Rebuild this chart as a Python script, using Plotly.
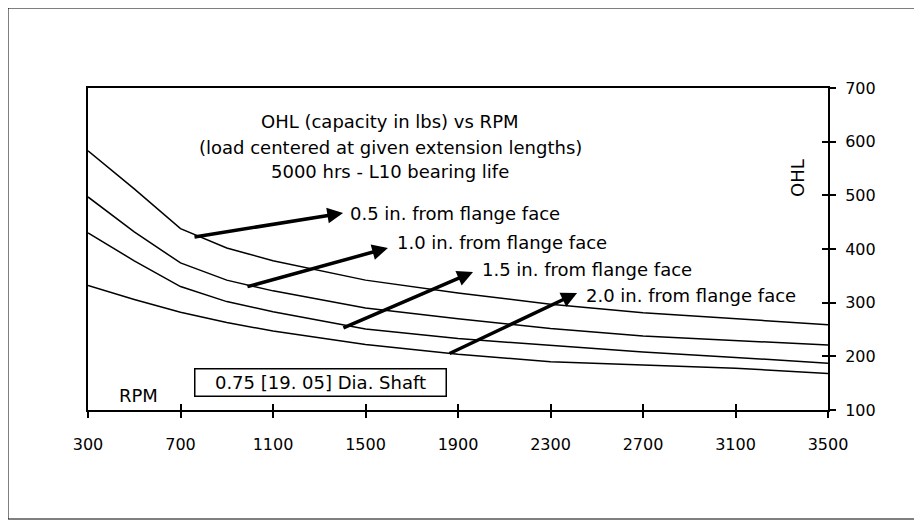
import plotly.graph_objects as go

rpm = [300, 500, 700, 900, 1100, 1500, 1900, 2300, 2700, 3100, 3500]
ohl_05 = [583, 512, 438, 402, 378, 342, 318, 297, 281, 270, 259]
ohl_10 = [497, 432, 374, 342, 322, 290, 270, 252, 238, 229, 221]
ohl_15 = [430, 378, 330, 302, 283, 251, 233, 221, 208, 198, 187]
ohl_20 = [332, 306, 282, 263, 247, 222, 204, 190, 184, 178, 168]

x_ticks = [300, 700, 1100, 1500, 1900, 2300, 2700, 3100, 3500]
y_ticks = [100, 200, 300, 400, 500, 600, 700]

# arrow labels: (text, tail rpm, tail ohl, head rpm, head ohl, label rpm, label ohl)
arrows = [
    ("0.5 in. from flange face", 754, 422, 1403, 467, 1424, 467),
    ("1.0 in. from flange face", 983, 329, 1597, 402, 1628, 413),
    ("1.5 in. from flange face", 1398, 252, 1965, 357, 1995, 361),
    ("2.0 in. from flange face", 1857, 204, 2415, 318, 2445, 314),
]

title_lines = ["OHL (capacity in lbs) vs RPM",
               "(load centered at given extension lengths)",
               "5000 hrs - L10 bearing life"]

FONT = "DejaVu Sans"

fig = go.Figure()
for ys in (ohl_05, ohl_10, ohl_15, ohl_20):
    fig.add_trace(go.Scatter(x=rpm, y=ys, mode="lines",
                             line=dict(color="black", width=1.5),
                             showlegend=False, hoverinfo="skip"))
# invisible trace on overlay axes (for crossing tick marks)
fig.add_trace(go.Scatter(x=[rpm[0]], y=[ohl_05[0]], xaxis="x2", yaxis="y2",
                         mode="markers", marker=dict(opacity=0),
                         showlegend=False, hoverinfo="skip"))

anns = []
for text, tx, ty, hx, hy, lx, ly in arrows:
    anns.append(dict(x=hx, y=hy, ax=tx, ay=ty, xref="x", yref="y",
                     axref="x", ayref="y", text="", showarrow=True,
                     arrowhead=2, arrowsize=0.9, arrowwidth=3.5,
                     arrowcolor="black", standoff=0))
    anns.append(dict(x=lx, y=ly, xref="x", yref="y", text=text,
                     showarrow=False, xanchor="left", yanchor="middle",
                     font=dict(family=FONT, size=18, color="black")))

for i, (t, py) in enumerate(zip(title_lines, [121, 147, 171])):
    anns.append(dict(x=(390 - 88) / 740, y=(410 - py) / 322, xref="paper",
                     yref="paper", text=t, showarrow=False,
                     xanchor="center", yanchor="middle",
                     font=dict(family=FONT, size=18, color="black")))

anns.append(dict(x=(320 - 88) / 740, y=(410 - 382) / 322, xref="paper",
                 yref="paper", text="0.75 [19. 05] Dia. Shaft",
                 showarrow=False, xanchor="center", yanchor="middle",
                 width=248, height=24, bordercolor="black", borderwidth=1.5,
                 borderpad=1, bgcolor="white",
                 font=dict(family=FONT, size=18, color="black")))
anns.append(dict(x=(138 - 88) / 740, y=(410 - 395) / 322, xref="paper",
                 yref="paper", text="RPM", showarrow=False,
                 xanchor="center", yanchor="middle",
                 font=dict(family=FONT, size=18, color="black")))
anns.append(dict(x=(797 - 88) / 740, y=(410 - 178) / 322, xref="paper",
                 yref="paper", text="OHL", showarrow=False, textangle=-90,
                 xanchor="center", yanchor="middle",
                 font=dict(family=FONT, size=18, color="black")))

axis_common = dict(showgrid=False, zeroline=False, linecolor="black",
                   tickcolor="black", tickwidth=2)

fig.update_layout(
    width=922, height=527,
    margin=dict(l=80, r=102, t=80, b=125),
    paper_bgcolor="white", plot_bgcolor="white",
    font=dict(family=FONT, size=16, color="black"),
    xaxis=dict(range=[300, 3500], tickvals=x_ticks, ticks="outside",
               ticklen=6, showline=True, linewidth=2, mirror=True,
               ticklabelstandoff=13, tickfont=dict(size=16),
               **axis_common),
    yaxis=dict(range=[100, 700], tickvals=y_ticks, side="right",
               ticks="outside", ticklen=6, showline=True, linewidth=2,
               mirror=True, ticklabelstandoff=6, tickfont=dict(size=16),
               **axis_common),
    xaxis2=dict(range=[300, 3500], tickvals=x_ticks, overlaying="x",
                ticks="inside", ticklen=6, showticklabels=False,
                showline=False, anchor="y2", side="bottom", **axis_common),
    yaxis2=dict(range=[100, 700], tickvals=y_ticks, overlaying="y",
                side="right", ticks="inside", ticklen=6,
                showticklabels=False, showline=False, anchor="x2",
                **axis_common),
    annotations=anns,
    shapes=[dict(type="rect", xref="paper", yref="paper",
                 x0=(8 - 88) / 740, x1=(915 - 88) / 740,
                 y0=(410 - 519) / 322, y1=(410 - 8) / 322,
                 line=dict(color="black", width=1))],
)

fig.write_html("out.html")
